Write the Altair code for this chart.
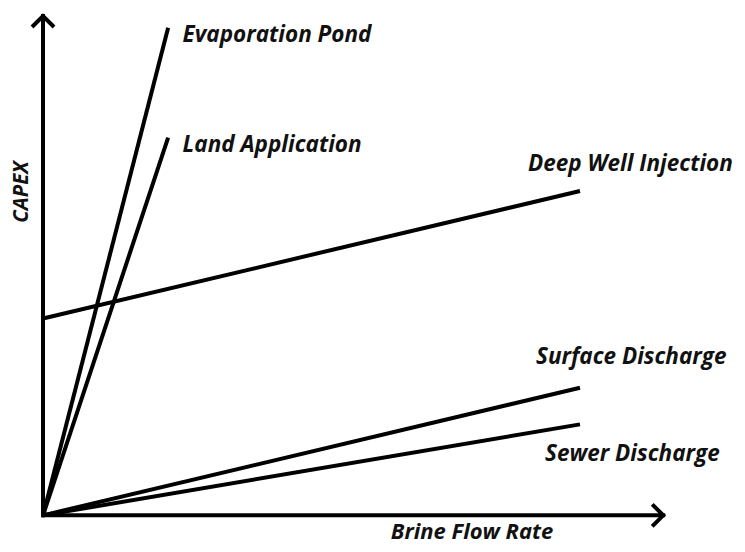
import altair as alt
import pandas as pd

# Line endpoints (abstract units: Brine Flow Rate on x, CAPEX on y)
series = ["Evaporation Pond", "Land Application", "Deep Well Injection", "Surface Discharge", "Sewer Discharge"]
x_start = [0, 0, 0, 0, 0]
y_start = [0, 0, 39.8, 0, 0]
x_end = [23.3, 23.3, 100, 100, 100]
y_end = [98.6, 76.4, 65.6, 25.8, 18.4]

# Label anchors (left-aligned, baseline)
label_x = [26.0, 26.0, 90.3, 91.8, 93.5]
label_y = [95.8, 73.4, 69.6, 30.6, 11.0]

# Axis extents
x_axis_end = 115.5
y_axis_end = 101.0

X_DOMAIN = [-6.52, 129.24]
Y_DOMAIN = [-5.8, 101.4]

rows = []
for s, x0, y0, x1, y1 in zip(series, x_start, y_start, x_end, y_end):
    rows.append({"series": s, "x": x0, "y": y0, "o": 0})
    rows.append({"series": s, "x": x1, "y": y1, "o": 1})
lines_df = pd.DataFrame(rows)

labels_df = pd.DataFrame({"label": series, "x": label_x, "y": label_y})

xs = alt.Scale(domain=X_DOMAIN, nice=False, zero=False)
ys = alt.Scale(domain=Y_DOMAIN, nice=False, zero=False)
X = lambda f: alt.X(f, type="quantitative", scale=xs, axis=None)
Y = lambda f: alt.Y(f, type="quantitative", scale=ys, axis=None)

FONT = "Open Sans"
TXT = "#111111"
FS = 22.5

lines = alt.Chart(lines_df).mark_line(color="black", strokeWidth=4, strokeCap="butt").encode(
    x=X("x"), y=Y("y"), detail="series:N", order="o:Q"
)

axes_df = pd.DataFrame({
    "x": [0, 0], "y": [0, 0], "x2": [x_axis_end, 0], "y2": [0, y_axis_end]
})
axes = alt.Chart(axes_df).mark_rule(color="black", strokeWidth=4, strokeCap="square").encode(
    x=X("x"), y=Y("y"), x2="x2:Q", y2="y2:Q"
)

up_arrow = alt.Chart(pd.DataFrame({"x": [0], "y": [y_axis_end]})).mark_point(
    shape="M-1,1L0,0L1,1", size=484, filled=False, color="black", strokeWidth=4, opacity=1
).encode(x=X("x"), y=Y("y"))

right_arrow = alt.Chart(pd.DataFrame({"x": [x_axis_end], "y": [0]})).mark_point(
    shape="M-1,-1L0,0L-1,1", size=484, filled=False, color="black", strokeWidth=4, opacity=1
).encode(x=X("x"), y=Y("y"))

labels = alt.Chart(labels_df).mark_text(
    align="left", baseline="alphabetic", font=FONT, fontSize=FS, fontStyle="italic",
    fontWeight="bold", color=TXT
).encode(x=X("x"), y=Y("y"), text="label:N")

xtitle = alt.Chart(pd.DataFrame({"x": [79.9], "y": [-4.8], "t": ["Brine Flow Rate"]})).mark_text(
    align="center", baseline="alphabetic", font=FONT, fontSize=22, fontStyle="italic",
    fontWeight="bold", color=TXT
).encode(x=X("x"), y=Y("y"), text="t:N")

ytitle = alt.Chart(pd.DataFrame({"x": [-3.85], "y": [65.4], "t": ["CAPEX"]})).mark_text(
    align="center", baseline="middle", angle=270, font=FONT, fontSize=20.5, fontStyle="italic",
    fontWeight="bold", color=TXT
).encode(x=X("x"), y=Y("y"), text="t:N")

chart = alt.layer(lines, axes, up_arrow, right_arrow, labels, xtitle, ytitle).properties(
    width=729, height=536,
    autosize=alt.AutoSizeParams(type="fit", contains="padding"),
    padding=0,
    background="white",
).configure_view(stroke=None)

chart.save("out.html", embed_options={"renderer": "svg", "actions": False})
